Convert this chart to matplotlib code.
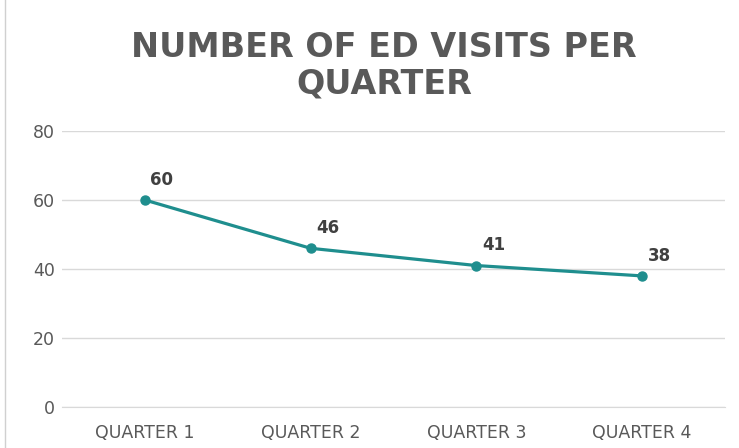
import matplotlib.pyplot as plt
from matplotlib.patches import Rectangle

# data
quarters = ["QUARTER 1", "QUARTER 2", "QUARTER 3", "QUARTER 4"]
visits = [60, 46, 41, 38]
y_ticks = [0, 20, 40, 60, 80]

line_color = "#1F8E8E"
text_color = "#595959"
grid_color = "#D9D9D9"

fig = plt.figure(figsize=(7.39, 4.48), dpi=100)
ax = fig.add_axes([62 / 739, 1 - 407 / 448, 663 / 739, (407 - 131) / 448])

# chart border (only left edge visible in crop)
fig.patches.append(Rectangle((5 / 739, -0.1), 1.0, 1.2, transform=fig.transFigure,
                             fill=False, edgecolor="#D0D0D0", linewidth=1))

x = range(len(quarters))
ax.plot(x, visits, color=line_color, linewidth=2.3, marker="o", markersize=6.5)

for xi, v in zip(x, visits):
    ax.annotate(str(v), (xi, v), xytext=(4, 8), textcoords="offset points",
                ha="left", va="bottom", fontsize=12, fontweight="bold",
                color="#404040")

ax.set_xlim(-0.5, len(quarters) - 0.5)
ax.set_ylim(0, 80)
ax.set_yticks(y_ticks)
ax.set_xticks(list(x))
ax.set_xticklabels(quarters)

ax.grid(axis="y", color=grid_color, linewidth=1)
ax.set_axisbelow(True)
for side in ["top", "right", "left"]:
    ax.spines[side].set_visible(False)
ax.spines["bottom"].set_color(grid_color)
ax.tick_params(axis="both", length=0, labelsize=12.5, colors=text_color)
ax.tick_params(axis="x", pad=12)
ax.tick_params(axis="y", pad=5)

fig.text(384 / 739, 1 - 66 / 448, "NUMBER OF ED VISITS PER\nQUARTER", ha="center",
         va="center", fontsize=24, fontweight="bold", color=text_color,
         linespacing=1.12)

fig.savefig("out.png", dpi=100)
